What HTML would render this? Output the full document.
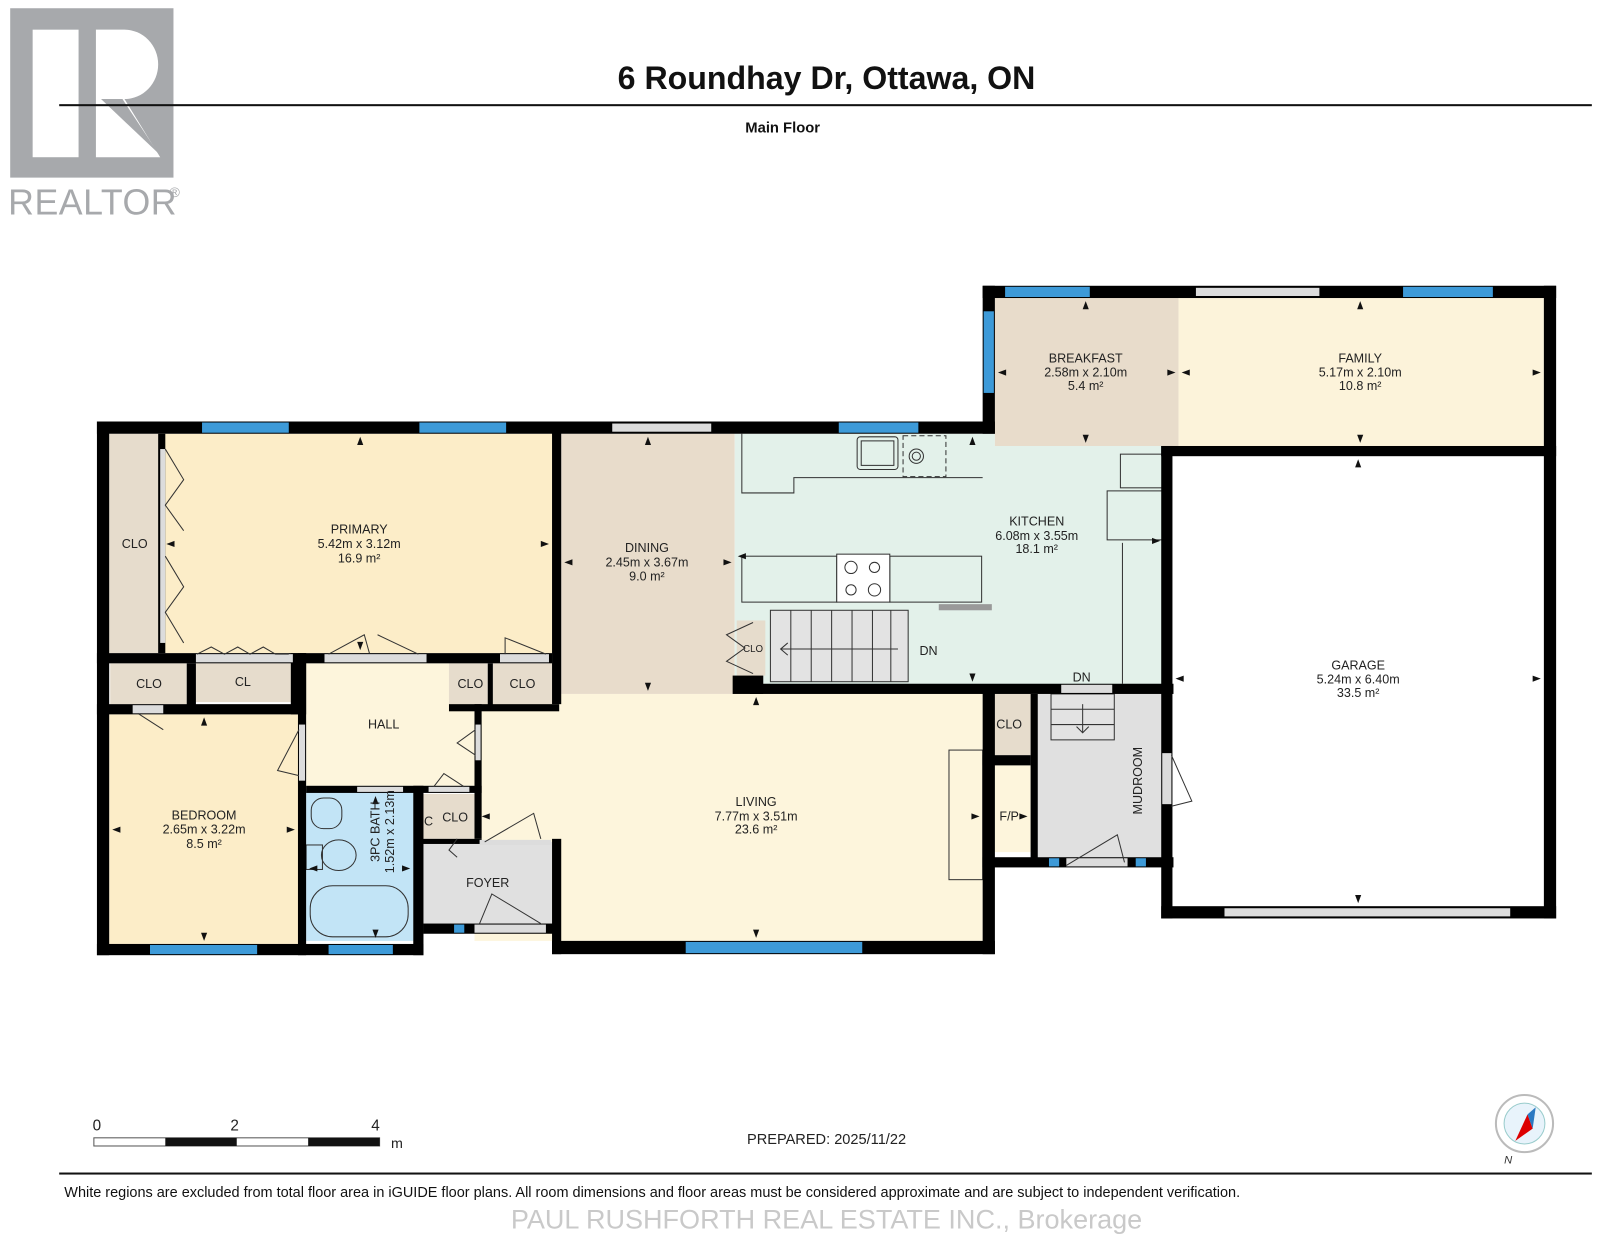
<!DOCTYPE html>
<html><head><meta charset="utf-8"><style>
html,body{margin:0;padding:0;background:#fff;}
svg{display:block;font-family:"Liberation Sans",Arial,sans-serif;}
.l{font-size:12.3px;fill:#222;text-anchor:middle;}
.w{fill:#000;}
.win{fill:#3d9ad8;}
.sl{fill:#dcdcdc;}
.ln{fill:none;stroke:#333;stroke-width:1;}
</style></head><body>
<svg width="1600" height="1243" viewBox="0 0 1568 1218" xmlns="http://www.w3.org/2000/svg">
<rect width="1568" height="1218" fill="#fff"/>
<!-- logo -->
<rect x="10" y="8" width="160" height="166" fill="#a7a9ac"/>
<rect x="32" y="29" width="45" height="125" fill="#fff"/>
<path d="M94,29 H122 A33,34 0 0 1 122,97 L157,154 H94 Z" fill="#fff"/>
<path d="M99,97 H120 L155,150 Z" fill="#a7a9ac"/>
<text x="8" y="210" font-size="35" fill="#a7a9ac" letter-spacing="0.5">REALTOR</text>
<text x="166" y="193" font-size="14" fill="#a7a9ac">®</text>
<!-- header -->
<text x="810" y="87" font-size="31.5" font-weight="bold" text-anchor="middle" fill="#111">6 Roundhay Dr, Ottawa, ON</text>
<rect x="58" y="102" width="1502" height="2" fill="#111"/>
<text x="767" y="130" font-size="14.5" font-weight="bold" text-anchor="middle" fill="#111">Main Floor</text>

<!-- fills -->
<rect x="107" y="425" width="52" height="215" fill="#e6dccc"/>
<rect x="159" y="425" width="382" height="215" fill="#fcedc8"/>
<rect x="550" y="425" width="170" height="255" fill="#e8dccb"/>
<rect x="720" y="425" width="255" height="250" fill="#e3f1ea"/>
<rect x="963" y="437" width="177" height="238" fill="#e3f1ea"/>
<rect x="975" y="292" width="180" height="145" fill="#e8dccb"/>
<rect x="1155" y="292" width="358" height="145" fill="#fcf3da"/>
<rect x="465" y="680" width="498" height="242" fill="#fdf5dc"/>
<rect x="300" y="650" width="165" height="120" fill="#fdf5dc"/>
<rect x="108" y="650" width="75" height="40" fill="#e6dccc"/>
<rect x="192" y="650" width="93" height="38" fill="#e6dccc"/>
<rect x="440" y="650" width="38" height="40" fill="#e6dccc"/>
<rect x="483" y="650" width="58" height="40" fill="#e6dccc"/>
<rect x="107" y="700" width="185" height="225" fill="#fcedc8"/>
<rect x="300" y="775" width="105" height="147" fill="#c2e4f6"/>
<rect x="412" y="778" width="53" height="44" fill="#e6dccc"/>
<rect x="415" y="825" width="126" height="80" fill="#e0e0e0"/>
<rect x="1015" y="680" width="125" height="160" fill="#e0e0e0"/>
<rect x="975" y="680" width="35" height="60" fill="#e6dccc"/>
<rect x="975" y="750" width="35" height="85" fill="#fdf5dc"/>
<rect x="722" y="608" width="28" height="54" fill="#e6dccc"/>

<!-- kitchen stairs -->
<rect x="755" y="598" width="135" height="70" fill="#e3e3e3" stroke="#333"/>
<g stroke="#333"><line x1="775" y1="598" x2="775" y2="668"/><line x1="795" y1="598" x2="795" y2="668"/><line x1="815" y1="598" x2="815" y2="668"/><line x1="835" y1="598" x2="835" y2="668"/><line x1="855" y1="598" x2="855" y2="668"/><line x1="873" y1="598" x2="873" y2="668"/>
<line x1="765" y1="636" x2="880" y2="636"/><polyline points="772,630 765,636 772,642" fill="none"/></g>
<!-- mudroom stairs -->
<rect x="1030" y="680" width="62" height="45" fill="#e3e3e3" stroke="#333"/>
<g stroke="#333"><line x1="1030" y1="695" x2="1092" y2="695"/><line x1="1030" y1="710" x2="1092" y2="710"/><line x1="1061" y1="690" x2="1061" y2="718"/><polyline points="1055,712 1061,718 1067,712" fill="none"/></g>

<!-- kitchen fixtures -->
<g class="ln">
<path d="M727,425 V483 H778 V468 H963"/>
<rect x="840" y="428" width="40" height="32" rx="3"/>
<rect x="844" y="432" width="32" height="24"/>
<rect x="885" y="427" width="42" height="40" stroke-dasharray="5,3"/>
<circle cx="898" cy="447" r="7"/><circle cx="898" cy="447" r="4"/>
<rect x="727" y="545" width="93" height="45"/>
<rect x="872" y="545" width="90" height="45"/>
<rect x="820" y="543" width="52" height="47" fill="#fff"/>
<circle cx="834" cy="556" r="6"/><circle cx="857" cy="556" r="5"/><circle cx="834" cy="578" r="5"/><circle cx="857" cy="578" r="6"/>
<rect x="1098" y="445" width="42" height="33"/>
<rect x="1085" y="481" width="55" height="48"/>
<line x1="1100" y1="532" x2="1100" y2="670"/>
<rect x="930" y="735" width="33" height="127"/>
<rect x="305" y="782" width="30" height="30" rx="12"/>
<ellipse cx="332" cy="838" rx="17" ry="15"/>
<rect x="300" y="828" width="16" height="24"/>
<rect x="304" y="868" width="96" height="50" rx="22"/>
</g>
<rect x="920" y="592" width="52" height="6" fill="#999"/>

<!-- walls -->
<g class="w">
<rect x="95" y="413" width="880" height="12"/>
<rect x="95" y="413" width="12" height="523"/>
<rect x="95" y="925" width="320" height="11"/>
<rect x="405" y="770" width="10" height="166"/>
<rect x="415" y="905" width="133" height="10"/>
<rect x="541" y="413" width="9" height="277"/>
<rect x="541" y="822" width="9" height="113"/>
<rect x="541" y="922" width="434" height="13"/>
<rect x="963" y="672" width="12" height="263"/>
<rect x="963" y="280" width="12" height="145"/>
<rect x="963" y="280" width="562" height="12"/>
<rect x="1513" y="280" width="12" height="620"/>
<rect x="1138" y="437" width="387" height="10"/>
<rect x="1138" y="437" width="11" height="463"/>
<rect x="1138" y="888" width="387" height="12"/>
<rect x="735" y="670" width="415" height="10"/>
<rect x="718" y="662" width="30" height="18"/>
<rect x="963" y="840" width="187" height="10"/>
<rect x="1010" y="680" width="7" height="165"/>
<rect x="963" y="740" width="47" height="10"/>
<rect x="95" y="640" width="446" height="10"/>
<rect x="95" y="690" width="200" height="10"/>
<rect x="183" y="650" width="9" height="45"/>
<rect x="285" y="640" width="15" height="60"/>
<rect x="292" y="640" width="8" height="296"/>
<rect x="465" y="690" width="7" height="132"/>
<rect x="440" y="690" width="108" height="7"/>
<rect x="478" y="650" width="5" height="45"/>
<rect x="300" y="770" width="172" height="7"/>
<rect x="412" y="822" width="60" height="5"/>
<rect x="155" y="425" width="7" height="215"/>
</g>
<!-- door openings (grey) -->
<g class="sl">
<rect x="157" y="440" width="5" height="190"/>
<rect x="192" y="641" width="95" height="8"/>
<rect x="318" y="641" width="100" height="8"/>
<rect x="490" y="641" width="48" height="8"/>
<rect x="130" y="691" width="30" height="8"/>
<rect x="293" y="710" width="6" height="55"/>
<rect x="466" y="710" width="5" height="35"/>
<rect x="350" y="771" width="45" height="5"/>
<rect x="420" y="771" width="40" height="5"/>
<rect x="470" y="823" width="70" height="5"/>
<rect x="465" y="906" width="70" height="8"/>
<rect x="1040" y="671" width="50" height="8"/>
<rect x="1045" y="841" width="60" height="8"/>
<rect x="1139" y="738" width="9" height="50"/>
<rect x="600" y="415" width="97" height="8"/>
<rect x="1172" y="282" width="121" height="8"/>
<rect x="1200" y="890" width="280" height="8"/>
</g>
<!-- windows -->
<g class="win">
<rect x="198" y="414" width="85" height="10"/><rect x="411" y="414" width="85" height="10"/>
<rect x="822" y="414" width="78" height="10"/>
<rect x="985" y="281" width="83" height="10"/><rect x="964" y="305" width="10" height="80"/>
<rect x="1375" y="281" width="88" height="10"/>
<rect x="147" y="926" width="105" height="9"/><rect x="322" y="926" width="63" height="9"/>
<rect x="672" y="923" width="173" height="11"/>
<rect x="445" y="906" width="10" height="8"/>
<rect x="1028" y="841" width="10" height="8"/><rect x="1113" y="841" width="10" height="8"/>
</g>
<!-- door swings -->
<g class="ln">
<path d="M162,440 L180,470 L162,495 L180,520 M162,545 L180,575 L162,600 L180,630"/>
<path d="M193,641 L207,634 L220,641 L233,634 L245,641 L258,634 L270,641 L283,641"/>
<path d="M322,641 L357,622 L362,640 M370,622 L410,641"/>
<path d="M495,641 L495,625 L535,641"/>
<path d="M135,699 L160,715"/>
<path d="M293,715 L272,755 L293,760"/>
<path d="M466,715 L448,728 L466,740"/>
<path d="M425,771 L435,758 L455,771"/>
<path d="M475,825 L523,797 L530,822"/>
<path d="M470,905 L482,876 L530,905"/>
<path d="M1045,848 L1095,818 L1102,845"/>
<path d="M1148,740 L1168,785 L1148,790"/>
<path d="M738,610 L712,622 L730,635 L712,648 L738,660"/>
<path d="M448,822 L440,833 L448,840"/>
</g>
<!-- arrows -->
<g fill="#111">
<path d="M353,428 l-3,8 h6z"/><path d="M353,637 l-3,-8 h6z"/><path d="M163,533 l8,-3 v6z"/><path d="M538,533 l-8,-3 v6z"/>
<path d="M635,428 l-3,8 h6z"/><path d="M635,677 l-3,-8 h6z"/><path d="M553,551 l8,-3 v6z"/><path d="M717,551 l-8,-3 v6z"/>
<path d="M1064,295 l-3,8 h6z"/><path d="M1064,434 l-3,-8 h6z"/><path d="M978,365 l8,-3 v6z"/><path d="M1152,365 l-8,-3 v6z"/>
<path d="M1333,295 l-3,8 h6z"/><path d="M1333,434 l-3,-8 h6z"/><path d="M1158,365 l8,-3 v6z"/><path d="M1510,365 l-8,-3 v6z"/>
<path d="M1331,450 l-3,8 h6z"/><path d="M1331,885 l-3,-8 h6z"/><path d="M1152,665 l8,-3 v6z"/><path d="M1510,665 l-8,-3 v6z"/>
<path d="M741,683 l-3,8 h6z"/><path d="M741,919 l-3,-8 h6z"/><path d="M472,800 l8,-3 v6z"/><path d="M960,800 l-8,-3 v6z"/>
<path d="M200,703 l-3,8 h6z"/><path d="M200,922 l-3,-8 h6z"/><path d="M110,813 l8,-3 v6z"/><path d="M289,813 l-8,-3 v6z"/>
<path d="M953,428 l-3,8 h6z"/><path d="M953,668 l-3,-8 h6z"/><path d="M723,545 l8,-3 v6z"/><path d="M1137,530 l-8,-3 v6z"/>
<path d="M368,780 l-3,8 h6z"/><path d="M368,919 l-3,-8 h6z"/><path d="M303,851 l8,-3 v6z"/><path d="M402,851 l-8,-3 v6z"/>
<path d="M1007,800 l-8,-3 v6z"/>
</g>
<!-- labels -->
<g class="l">
<text x="132" y="537">CLO</text>
<text x="352" y="523">PRIMARY</text><text x="352" y="537">5.42m x 3.12m</text><text x="352" y="551">16.9 m²</text>
<text x="634" y="541">DINING</text><text x="634" y="555">2.45m x 3.67m</text><text x="634" y="569">9.0 m²</text>
<text x="1016" y="515">KITCHEN</text><text x="1016" y="529">6.08m x 3.55m</text><text x="1016" y="542">18.1 m²</text>
<text x="1064" y="355">BREAKFAST</text><text x="1064" y="369">2.58m x 2.10m</text><text x="1064" y="382">5.4 m²</text>
<text x="1333" y="355">FAMILY</text><text x="1333" y="369">5.17m x 2.10m</text><text x="1333" y="382">10.8 m²</text>
<text x="1331" y="656">GARAGE</text><text x="1331" y="670">5.24m x 6.40m</text><text x="1331" y="683">33.5 m²</text>
<text x="741" y="790">LIVING</text><text x="741" y="804">7.77m x 3.51m</text><text x="741" y="817">23.6 m²</text>
<text x="200" y="803">BEDROOM</text><text x="200" y="817">2.65m x 3.22m</text><text x="200" y="831">8.5 m²</text>
<text x="376" y="714">HALL</text>
<text x="146" y="674">CLO</text><text x="238" y="672">CL</text><text x="461" y="674">CLO</text><text x="512" y="674">CLO</text>
<text x="446" y="805">CLO</text><text x="420" y="809">C</text>
<text x="478" y="869">FOYER</text>
<text x="989" y="804">F/P</text><text x="989" y="714">CLO</text>
<text x="910" y="642">DN</text><text x="1060" y="668">DN</text>
<text x="738" y="639" font-size="9.5">CLO</text>
<text transform="translate(1119,765) rotate(-90)">MUDROOM</text>
<text transform="translate(372,815) rotate(-90)">3PC BATH</text>
<text transform="translate(386,815) rotate(-90)">1.52m x 2.13m</text>
</g>
<!-- scale -->
<rect x="92" y="1115" width="280" height="8" fill="#fff" stroke="#555" stroke-width="1"/>
<rect x="162" y="1115" width="70" height="8" fill="#111"/><rect x="302" y="1115" width="70" height="8" fill="#111"/>
<g font-size="15" fill="#222" text-anchor="middle"><text x="95" y="1108">0</text><text x="230" y="1108">2</text><text x="368" y="1108">4</text><text x="389" y="1125" font-size="14">m</text></g>
<text x="810" y="1121" font-size="14.3" text-anchor="middle" fill="#222">PREPARED: 2025/11/22</text>
<!-- compass -->
<circle cx="1494" cy="1101" r="28" fill="#fff" stroke="#bbb" stroke-width="2"/>
<circle cx="1494" cy="1101" r="20" fill="#e8f3fb" stroke="#9cc" stroke-width="1"/>
<path d="M1485,1118 L1497,1092 L1502,1106 Z" fill="#d00"/>
<path d="M1497,1092 L1505,1085 L1502,1106 Z" fill="#2b79c2"/>
<text x="1474" y="1140" font-size="11" font-style="italic" fill="#333">N</text>
<rect x="58" y="1149" width="1502" height="2" fill="#111"/>
<text x="63" y="1173" font-size="14.2" fill="#111">White regions are excluded from total floor area in iGUIDE floor plans. All room dimensions and floor areas must be considered approximate and are subject to independent verification.</text>
<text x="810" y="1204" font-size="26.5" text-anchor="middle" fill="#c9c9c9">PAUL RUSHFORTH REAL ESTATE INC., Brokerage</text>
</svg>
</body></html>
